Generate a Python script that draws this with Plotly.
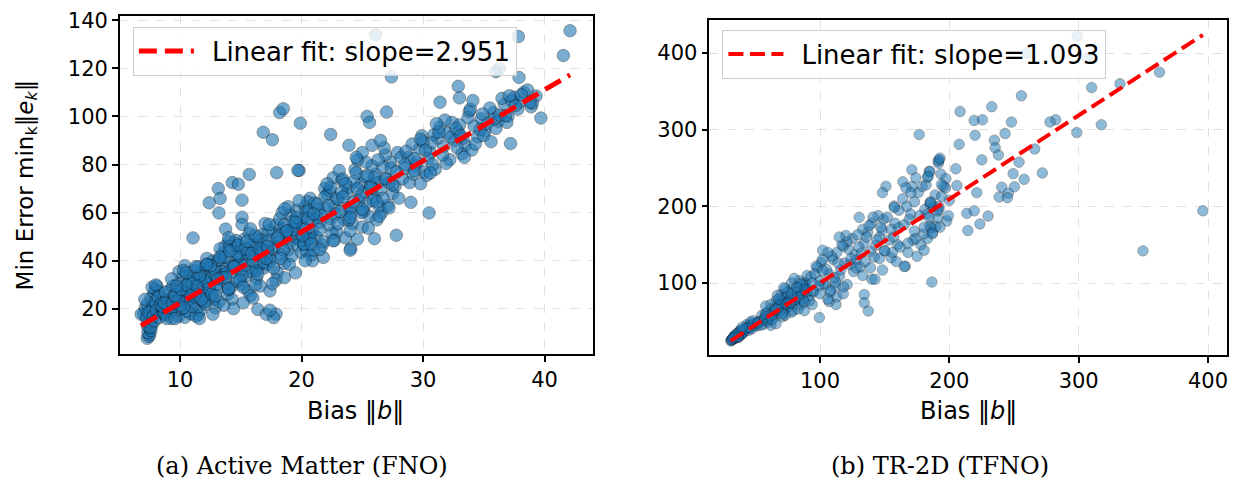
import plotly.graph_objects as go

# ---------------- Panel (a): Active Matter (FNO) ----------------
a_tip_x = [7.3,7.45,7.5,7.35,7.6,7.5,7.3,7.7,7.4,7.65, 7.2,7.0,6.8,7.15,7.3,7.6,7.85,7.95,8.1,8.3,
           7.55,7.75,7.9,8.2,8.45,7.25,7.4,7.8,8.05,8.5, 7.6,7.9,8.3,8.65,7.1,7.7,8.0,8.4,8.8,9.05]
a_tip_y = [7.8,8.6,9.4,10.2,11.0,12.0,13.0,13.8,14.8,15.6, 17.0,18.0,17.8,20.5,22.0,24.5,26.5,28.0,29.5,27.0,
           19.0,21.0,23.0,25.0,22.5,16.0,18.5,17.0,19.5,20.0, 12.5,15.0,16.5,18.0,24.0,29.0,30.0,21.5,17.5,22.0]

a_low_x = [8.7,9.4,10.6,11.3,9.9,8.9,10.2,11.7,9.1,10.8, 11.9,9.6,10.4,11.1,8.6,9.8,11.5,10.0,9.3,12.0,
           10.7,11.4,9.0,10.3,11.8,9.7,10.9,8.8,11.2,10.1, 9.5,11.6,10.5,9.2,11.0,12.1,9.9,10.6,11.3,8.9,
           10.2,11.9,9.4,10.8,11.5,9.6,10.0,11.1,12.2,10.4, 9.0,11.7,10.7,9.8,11.4,10.3,8.7,11.0,9.3,12.0]
a_low_y = [18.5,21.0,26.5,31.0,17.0,24.0,33.5,35.0,27.5,22.0, 29.0,19.5,16.5,24.5,21.0,30.5,17.5,25.0,16.0,37.0,
           34.0,20.5,23.0,29.0,26.5,23.5,18.0,27.0,36.0,20.0, 25.5,32.0,22.5,19.0,28.0,33.0,35.5,19.0,17.0,16.0,
           27.0,23.0,29.5,31.5,37.5,16.0,21.5,33.0,31.0,38.0, 20.5,19.5,24.0,27.5,26.0,36.0,22.5,21.0,32.5,25.0]

a_mid_x = [12.3,13.6,14.9,16.2,12.8,15.4,13.1,16.8,14.2,12.5, 15.9,13.9,16.5,12.1,14.6,15.1,13.3,16.0,14.0,12.7,
           15.6,16.9,13.5,14.4,12.9,15.3,16.3,13.8,14.8,12.4, 16.7,15.0,13.2,14.1,15.8,12.6,16.4,13.7,14.7,15.5,
           12.2,13.0,16.1,14.3,15.2,16.6,13.4,14.5,12.0,15.7, 11.6,12.7,14.4,16.4,17.1,17.9,17.7,17.4,16.0,15.2,
           13.3,14.6,15.8,16.9,12.9,14.0,15.1,16.2,13.6,14.8]
a_mid_y = [31.0,36.5,42.0,47.0,24.0,33.5,39.5,51.0,29.0,37.0, 44.0,26.0,38.0,22.0,45.5,30.0,34.0,41.5,48.0,40.0,
           27.5,45.0,43.0,35.0,20.5,49.0,32.5,30.5,39.0,27.0, 42.5,36.0,23.0,40.5,25.5,33.0,49.5,46.0,31.5,40.0,
           41.0,28.5,36.0,24.0,44.5,29.5,35.5,47.5,25.5,51.5, 16.0,17.8,20.1,19.8,17.8,17.9,16.4,19.5,24.5,22.5,
           45.0,48.5,35.5,37.0,33.5,28.0,38.0,30.0,21.5,42.0]

a_core_x = [9.4,10.7,12.1,13.5,11.2,9.9,12.8,14.2,10.3,13.0, 11.6,12.4,14.7,10.9,13.8,9.6,12.0,11.0,14.4,13.2,
            15.3,16.7,18.1,17.4,15.9,19.2,16.3,18.7,17.0,19.8, 15.6,17.7,16.0,18.4,19.5,17.2,15.1,18.9,16.6,20.2,
            10.1,11.8,13.4,12.6,14.9,16.9,18.3,19.0,17.9,15.4, 11.4,13.7,12.2,10.5,14.1,16.4,17.6,19.4,18.6,20.0]
a_core_y = [22.5,27.0,31.5,34.0,25.0,23.5,36.5,38.0,20.5,30.0, 33.5,28.5,43.0,26.5,35.0,25.5,23.0,30.5,37.5,40.5,
            38.0,43.5,48.0,41.0,46.5,52.0,36.0,50.5,47.0,56.0, 43.0,45.0,40.0,53.5,49.5,38.5,34.0,44.5,48.5,58.0,
            28.0,24.0,33.0,26.0,32.0,39.5,42.5,47.5,55.0,45.0, 29.5,41.5,38.5,30.0,46.0,34.5,51.5,54.5,39.0,50.0]

a_up_x = [17.3,19.6,18.2,20.7,17.8,19.1,20.3,18.6,17.5,19.9, 20.9,18.0,19.4,17.2,20.5,18.8,19.2,17.7,20.1,18.4,
          19.7,17.9,20.8,18.5,19.0,17.4,20.4,18.3,19.3,20.6, 17.6,18.9,20.0,17.1,19.5,18.7,20.2,17.0,19.8,18.1,
          20.9,19.6,18.6,17.3,20.3]
a_up_y = [52.5,61.0,57.5,66.0,46.0,59.0,62.5,55.0,40.0,48.0, 57.0,35.0,53.0,44.0,64.5,49.5,42.0,37.0,54.0,60.0,
          46.5,32.0,51.0,44.5,38.5,27.5,60.5,41.0,56.5,49.0, 30.5,62.5,43.5,41.0,35.0,52.0,47.0,55.5,65.0,50.5,
          40.0,58.0,33.0,48.5,53.0]

a_c2_x = [20.4,22.7,24.9,21.3,23.6,26.1,20.9,25.4,22.1,27.3, 23.9,21.7,26.6,24.2,20.6,22.9,25.8,27.7,21.1,23.3,
          24.6,26.9,22.4,20.2,25.1,23.0,21.9,26.3,24.4,27.1, 22.6,25.6,20.8,23.8,21.5,26.0,24.0,27.9,22.0,25.2,
          23.5,21.2,26.7,24.7,20.5,22.3,25.0,23.1,27.5,21.8, 24.3,26.4,22.8,20.3,25.7,23.7,21.4,26.8,24.1,28.2,
          22.5,25.3,20.7,23.4,21.0,26.2,24.8,22.2,25.9,27.0, 23.2,21.6,24.5,26.5,22.9,20.1,25.5,23.6,27.4,21.9,
          24.0,26.0,22.4,25.1,23.0,21.3,24.6,26.7,22.7,25.8, 20.8,23.9,27.2,24.3,21.5,22.1,25.4,26.3,23.3,24.9,
          25.0,25.8,26.5,24.5,23.9]
a_c2_y = [44.0,62.5,72.0,58.0,49.5,76.0,52.5,64.0,67.5,81.0, 70.5,46.5,60.0,55.5,61.0,52.0,79.5,71.0,64.0,73.5,
          49.0,84.0,57.5,47.0,68.5,65.5,70.0,72.5,78.0,63.0, 74.5,58.5,42.5,62.0,56.0,66.5,52.5,85.0,61.5,75.0,
          57.0,50.0,79.0,65.0,57.5,69.0,54.0,77.5,68.0,48.0, 73.0,62.5,59.5,40.0,71.5,68.0,61.5,87.0,60.0,83.0,
          51.5,81.0,49.0,74.0,44.5,57.0,67.0,55.0,65.0,74.0, 60.5,59.0,76.5,69.5,66.0,50.5,53.5,72.0,78.5,66.5,
          62.0,74.5,70.5,60.5,55.5,63.5,82.0,66.0,48.5,70.0, 47.0,57.0,72.5,64.5,53.0,72.0,75.5,82.0,68.5,60.0,
          85.0,88.0,90.0,83.0,88.0]

a_c3_x = [28.3,30.6,32.9,29.4,31.7,34.2,28.8,33.5,30.1,35.8, 31.2,29.7,33.0,36.7,28.5,32.2,34.8,30.9,37.5,29.1,
          31.9,35.1,33.8,30.3,38.3,32.6,29.9,36.2,34.5,31.4, 38.9,33.2,30.7,35.5,28.9,37.0,32.0,34.0,29.5,36.5,
          31.0,33.7,38.0,30.0,35.3,32.4,37.8,29.2,34.7,31.6, 36.0,33.3,39.3,30.4,32.8,35.9,28.6,37.3,34.3,31.3,
          33.9,30.8,36.9,32.3,38.6,29.8,35.0,31.8,34.9,37.6, 30.2,33.4,36.3,32.7,39.0,31.1,35.6,29.3,33.1,38.1]
a_c3_y = [74.0,85.0,93.5,79.5,87.5,96.0,83.0,88.0,77.0,101.5, 91.0,86.5,96.5,105.0,78.5,82.0,99.0,92.5,108.0,88.5,
          80.5,94.0,102.0,75.5,110.0,90.0,92.0,98.0,91.5,95.5, 104.0,84.5,89.0,103.5,72.5,100.0,93.0,86.0,81.0,107.5,
          78.0,99.5,106.0,89.5,97.0,97.5,103.0,76.0,94.5,84.0, 95.0,91.0,108.5,82.5,87.0,99.0,85.5,106.5,88.5,93.5,
          103.0,80.0,97.5,91.5,111.0,90.5,92.0,98.5,101.0,104.5, 86.0,83.0,100.5,95.0,105.5,97.0,89.5,77.5,92.0,109.0]

a_fill_x = [12.5,13.3,14.1,14.8,15.5,16.2,13.7,14.5,15.9,16.6, 12.9,15.2,17.2,18.0,18.8,19.5,21.0,22.2,23.4,24.6,
            25.7,26.9,27.8,28.5,29.3,27.2,28.0,26.4,29.8,30.6, 10.5,11.3,12.2,9.7,13.1,14.0, 24.0,25.0,26.2,27.5]
a_fill_y = [38.0,41.5,44.0,46.5,48.0,50.5,33.0,37.5,43.0,45.0, 25.5,29.0,46.0,49.5,52.5,56.0,59.5,63.0,66.5,70.0,
            70.5,74.0,77.0,80.0,82.5,62.0,66.0,58.5,72.0,76.5, 35.0,37.5,38.5,29.5,32.5,28.5, 58.0,61.5,64.5,71.5]

a_out_x = [11.07,12.4,13.15,13.3,13.2,14.3,14.8,15.1,15.7,15.1,15.1,13.75,14.0,15.8,16.85,17.6,18.2,18.5,17.95,19.9,
           19.8,18.6,17.35,19.7, 42.1,41.55,39.7,37.2,37.9,37.85,36.3,36.0,32.9,33.0,27.4,26.1,27.0,25.4,25.6,22.4,
           30.5,29.0,24.05,22.6,24.0,27.8,26.0,21.8,21.5, 31.4,34.1,37.1,38.8,36.8]
a_out_y = [49.5,64.1,70.0,65.9,59.9,72.5,71.8,65.2,75.9,58.1,55.1,53.2,49.6,53.3,93.4,90.3,101.6,103.2,76.6,97.2,
           77.5,61.6,55.1,77.6, 135.6,125.3,99.3,88.7,116.2,133.2,119.8,118.6,112.5,107.7,116.4,133.9,101.8,100.0,97.5,92.5,
           59.9,64.3,45.1,48.3,44.4,50.6,49.2,41.4,44.7, 105.9,106.6,108.6,105.9,100.4]

a_slope = 2.951
a_intercept = -7.0
a_xticks = [10, 20, 30, 40]
a_yticks = [20, 40, 60, 80, 100, 120, 140]

# ---------------- Panel (b): TR-2D (TFNO) ----------------
b_tip_x = [31,33.5,36,32,34.5,38,35,40,31.5,37, 33,39,42,36.5,34,44,38.5,32.5,41,35.5,
           46,37.5,43,39.5,48,33.5,45,41.5,50,36, 34.5,47,40.5,52,38,43.5,31.8,49,44.5,37,
           35,42.5,39,46.5,32.8,51,45.5,40,48.5,36.8]
b_tip_y = [24.5,27,30,26.5,29.5,31,28.5,36,25.5,33, 28,34,39,29,31.5,41,35.5,27.5,38.5,32.5,
           43,36.5,40.5,33,47,30,44.5,37,45,31, 30,40,35,49,37.5,46,26,46.5,38,34.5,
           33.5,41,39,49.5,28.8,44,42,42.5,51,29.5]

b_band_x = [53,58,64,69,75,81,86,56,62,71, 78,84,90,55,60,67,73,80,88,54,
            63,70,76,83,91,57,65,72,79,87, 59,66,74,82,89,52,61,68,77,85,
            62,70,78,86,57,65,73,81,89,68, 75,83,60,67,79,87,71,84,64,76,
            58,74,80,90,66,72,85,62,78,88]
b_band_y = [50,56,61,73,69,80,86,46,66,63, 92,77,88,58,52,72,82,72,101,45,
            58,78,70,95,82,55,62,66,84,79, 62,77,75,88,98,48,54,68,80,72,
            72,85,100,90,52,56,92,78,93,70, 88,82,49,84,64,97,56,103,64,77,
            60,73,106,110,66,94,99,45,62,91]

b_mid_x = [93,98,104,110,116,122,128,134,140,146, 95,101,107,113,119,125,131,137,143,149,
           97,103,109,115,121,127,133,139,145,92, 100,106,112,118,124,130,136,142,148,96,
           102,108,114,120,126,132,138,144,150,99, 105,111,117,123,129,135,141,147,94,113,
           99.5,112.4,102,114.9,107,121,133,118,128,140]
b_mid_y = [108,120,98,131,117,144,130,152,178,160, 88,127,112,140,126,158,121,166,149,183,
           122,99,135,109,154,137,170,141,188,77, 103,140,96,148,132,147,160,134,169,112,
           131,88,126,162,115,139,175,156,142,96, 118,107,150,124,163,128,186,173,100,82,
           55,72,142.8,160,76,98,110,86,120,105]

b_fill_x = [58,63,68,73,78,83,88,95,102,108, 66,71,77,82,88,94,100,106,112,118,
            155,160,168,172,178,183,146,139]
b_fill_y = [70,52,79,58,86,66,75,90,116,90, 47,60,74,94,64,72,86,79,101,95,
            133,150,140,156,150,158,132,120]

b_hi_x = [152,167,158,176,161,173,155,179,164,170, 153,181,161,189,169,157,185,165,177,173,
          182,194,188,197,185,200,191,183,187,192, 156,174,162,186,168,198,180,192,164,171,
          150,159,166,175,151,148.3,166.4,170.3,130.3,157.4,171,174.1,184.4,183.1,192.1,191.6,
          165.1,148.3,142.5,134.2,134.2,137.3,157.4]
b_hi_y = [186,200,178,218,195,206,170,226,210,190, 156,196,172,215,183,160,203,176,188,168,
          228,213,200,224,175,208,185,190,166,200, 140,158,147,172,152,181,164,196,232,226,
          142,128,122,135,226.3,217.9,224.2,217.9,185.7,200.6,247.8,237.1,245.6,237.9,260.7,256.4,
          121.5,117,105,85,74.3,63.6,198.6]

b_out_x = [396,349.7,362.5,331.9,310,317.5,298.5,298.9,306.6,260.3,282.2,277.8,255.7,232.8,208.3,219.2,225.6,248,
           243.1,219.9,234.8,235.4,237.9,207.6,225.1,266,253.9,271.9,249.3,257.8,250.3,240.5,245.6,238.5,244.9,221.2,
           213.5,219.2,230,223.6,214.3,205,199.3,205.8,191.4,192.7,184.9,183.6,193.4,197.3,195.4,193.9,176.7,185.2,
           190.8,184.4,189.6,192.8,186.9,180.5,185.7,180.5,186.5]
b_out_y = [194.2,142,375,360,354.9,306.5,296.3,422,393.4,399.9,313,310,344.2,330,323.7,312.1,313,310,
           295,292.8,286.4,276.5,267.1,280.9,260.7,274.8,257.7,243.6,242.7,235.3,225.6,225.1,217,212.2,211.4,217.9,
           190.9,194.2,187.4,177.1,168.5,249.1,187.8,227.2,259.4,262.9,245.6,239.2,242.3,236.2,226.3,228.5,293.7,205.8,
           194.2,185.7,173.7,172.9,164.3,172.9,205,142.8,101.3]

b_slope = 1.093
b_intercept = -9.2
b_xticks = [100, 200, 300, 400]
b_yticks = [100, 200, 300, 400]

# ---------------- assemble ----------------
ax = a_tip_x + a_low_x + a_mid_x + a_core_x + a_up_x + a_c2_x + a_c3_x + a_fill_x + a_out_x
ay = a_tip_y + a_low_y + a_mid_y + a_core_y + a_up_y + a_c2_y + a_c3_y + a_fill_y + a_out_y
bx = b_tip_x + b_band_x + b_mid_x + b_fill_x + b_hi_x + b_out_x
by = b_tip_y + b_band_y + b_mid_y + b_fill_y + b_hi_y + b_out_y

W, H = 1237, 493
FONT = "DejaVu Sans"
BLUE = "#1f77b4"

def px(x):
    return x / W

def py(y):
    return 1 - y / H

fig = go.Figure()

fig.add_trace(go.Scatter(
    x=ax, y=ay, mode="markers", xaxis="x", yaxis="y", showlegend=False,
    marker=dict(size=12.5, color=BLUE, opacity=0.6, line=dict(color="black", width=0.6)),
    hoverinfo="skip"))
ax_line = [min(ax), max(ax)]
fig.add_trace(go.Scatter(
    x=ax_line, y=[a_slope * v + a_intercept for v in ax_line], mode="lines",
    xaxis="x", yaxis="y", name=f"\u2002Linear fit: slope={a_slope:.3f}", legend="legend",
    line=dict(color="red", width=5, dash="18px,8px")))

fig.add_trace(go.Scatter(
    x=bx, y=by, mode="markers", xaxis="x2", yaxis="y2", showlegend=False,
    marker=dict(size=10.5, color=BLUE, opacity=0.5, line=dict(color="black", width=0.6)),
    hoverinfo="skip"))
bx_line = [min(bx), max(bx)]
fig.add_trace(go.Scatter(
    x=bx_line, y=[b_slope * v + b_intercept for v in bx_line], mode="lines",
    xaxis="x2", yaxis="y2", name=f"\u2002Linear fit: slope={b_slope:.3f}", legend="legend2",
    line=dict(color="red", width=4, dash="15px,6.5px")))

axis_common = dict(
    showline=True, mirror=True, linecolor="black", linewidth=1.6,
    ticks="outside", ticklen=6, tickwidth=1.6, tickcolor="black",
    showgrid=True, gridcolor="rgb(224,224,224)", gridwidth=1.2, griddash="dash",
    zeroline=False, tickfont=dict(family=FONT, size=21, color="black"),
)

legend_common = dict(xanchor="left", yanchor="top", bgcolor="rgba(255,255,255,0.8)",
                     bordercolor="#cccccc", borderwidth=1,
                     font=dict(family=FONT, size=26, color="black"), itemwidth=55)

fig.update_layout(
    width=W, height=H, margin=dict(l=0, r=0, t=0, b=0),
    paper_bgcolor="white", plot_bgcolor="white",
    xaxis=dict(domain=[px(120), px(593)], range=[5.05, 43.95], tickvals=a_xticks,
               anchor="y", **axis_common),
    yaxis=dict(domain=[py(351.7), py(8.7)], range=[1.4, 141.9], tickvals=a_yticks,
               anchor="x", **axis_common),
    xaxis2=dict(domain=[px(710), px(1228.3)], range=[14.5, 414.9], tickvals=b_xticks,
                anchor="y2", **axis_common),
    yaxis2=dict(domain=[py(353.3), py(12.7)], range=[5.8, 443.7], tickvals=b_yticks,
                anchor="x2", **axis_common),
    legend=dict(x=px(133), y=py(20), **legend_common),
    legend2=dict(x=px(723), y=py(23), **legend_common),
)

ann_font = dict(family=FONT, size=24, color="black")
cap_font = dict(family="DejaVu Serif", size=24, color="black")
fig.add_annotation(x=px(356), y=py(410), xref="paper", yref="paper", showarrow=False,
                   text="Bias ‖<i>b</i>‖", font=ann_font, xanchor="center", yanchor="middle")
fig.add_annotation(x=px(969), y=py(410), xref="paper", yref="paper", showarrow=False,
                   text="Bias ‖<i>b</i>‖", font=ann_font, xanchor="center", yanchor="middle")
fig.add_annotation(x=px(27), y=py(180), xref="paper", yref="paper", showarrow=False,
                   text="Min Error min<sub>k</sub>‖<i>e<sub>k</sub></i>‖", font=dict(family=FONT, size=23, color="black"),
                   textangle=-90, xanchor="center", yanchor="middle")
fig.add_annotation(x=px(302), y=py(466), xref="paper", yref="paper", showarrow=False,
                   text="(a) Active Matter (FNO)", font=cap_font, xanchor="center", yanchor="middle")
fig.add_annotation(x=px(941), y=py(466), xref="paper", yref="paper", showarrow=False,
                   text="(b) TR-2D (TFNO)", font=cap_font, xanchor="center", yanchor="middle")

fig.write_html("out.html")
